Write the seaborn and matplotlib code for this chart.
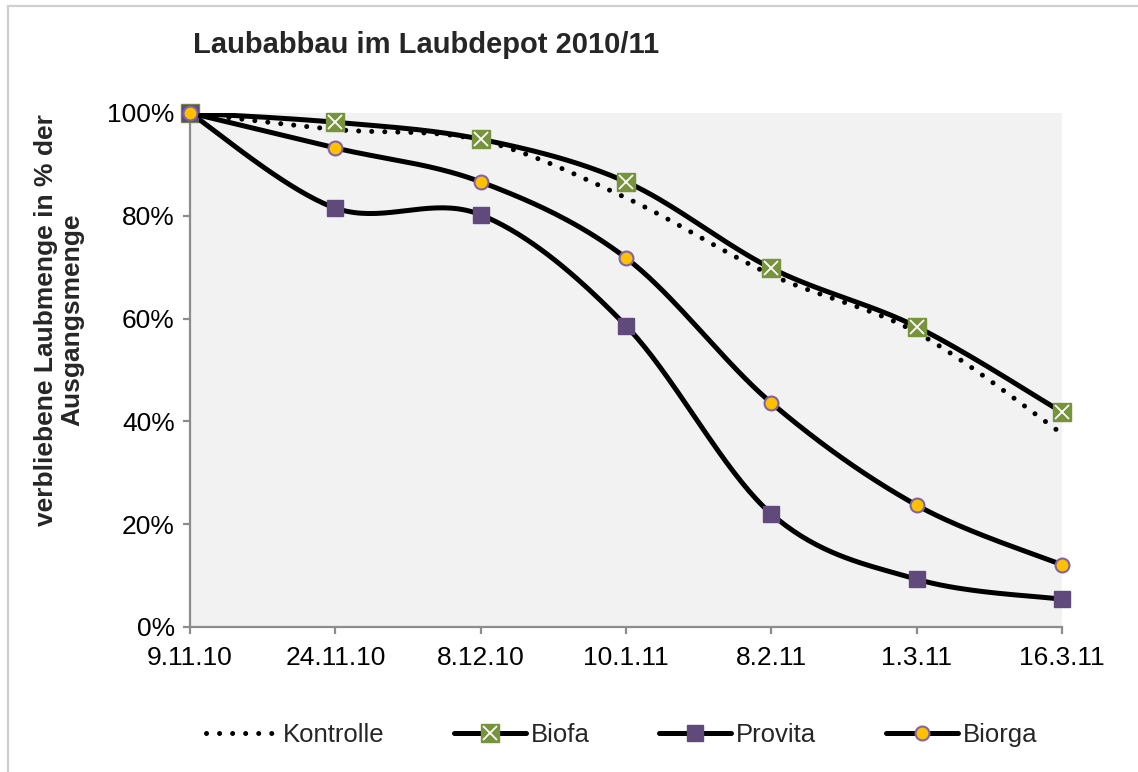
import numpy as np
import pandas as pd
import matplotlib
matplotlib.use('Agg')
import matplotlib.pyplot as plt
from matplotlib.lines import Line2D
from matplotlib.patches import Rectangle
from matplotlib.legend_handler import HandlerTuple
import seaborn as sns

dates = ['9.11.10', '24.11.10', '8.12.10', '10.1.11', '8.2.11', '1.3.11', '16.3.11']
kontrolle = [100, 96.8, 94.7, 83.5, 68.5, 57.3, 37.6]
biofa = [100, 98.2, 94.9, 86.6, 69.8, 58.4, 41.8]
provita = [100, 81.5, 80.2, 58.6, 22.0, 9.3, 5.4]
biorga = [100, 93.2, 86.6, 71.8, 43.6, 23.7, 12.1]
yticks = [0, 20, 40, 60, 80, 100]

### Excel-like smoothed line (Catmull-Rom through the data points)
def smooth(xs, ys, n=40):
    p = np.column_stack([xs, ys]).astype(float)
    p = np.vstack([p[0], p, p[-1]])
    out = []
    for i in range(1, len(p) - 2):
        p0, p1, p2, p3 = p[i - 1], p[i], p[i + 1], p[i + 2]
        c1 = p1 + (p2 - p0) / 6
        c2 = p2 - (p3 - p1) / 6
        t = np.linspace(0, 1, n)[:, None]
        seg = (1 - t)**3 * p1 + 3 * (1 - t)**2 * t * c1 + 3 * (1 - t) * t**2 * c2 + t**3 * p2
        out.append(seg if i == 1 else seg[1:])
    out = np.vstack(out)
    return out[:, 0], out[:, 1]

sns.set_style('white')
plt.rcParams['font.family'] = ['Liberation Sans', 'DejaVu Sans']

W, H = 1138, 772
fig = plt.figure(figsize=(W / 100, H / 100), dpi=100)
ax = fig.add_axes([190 / W, 1 - 627 / H, 872 / W, 514 / H])
ax.set_facecolor('#F2F2F2')

xpos = np.arange(len(dates))
series = [
    ('Kontrolle', kontrolle, dict(ls=(0, (0.01, 2.6)), dash_capstyle='round'), None),
    ('Biofa', biofa, dict(ls='-'), dict(marker='s', ms=13.5, mfc='#77933C', mec='#77933C')),
    ('Provita', provita, dict(ls='-'), dict(marker='s', ms=11.5, mfc='#604A7B', mec='#604A7B')),
    ('Biorga', biorga, dict(ls='-'), dict(marker='o', ms=10, mfc='#FFC000', mec='#8064A2', mew=1.5)),
]

handles = []
for z, (name, vals, lstyle, mstyle) in enumerate(series):
    sx, sy = smooth(xpos, vals)
    df = pd.DataFrame({'x': sx, 'y': sy})
    sns.lineplot(data=df, x='x', y='y', sort=False, estimator=None, ax=ax,
                 color='black', lw=3.6, zorder=3 + z * 2, **lstyle)
    if mstyle:
        ax.plot(xpos, vals, ls='none', clip_on=False, zorder=4 + z * 2, **mstyle)
        if name == 'Biofa':
            ax.plot(xpos, vals, ls='none', marker='x', ms=10.5, mec='white', mew=1.3,
                    clip_on=False, zorder=4 + z * 2)
    h = [Line2D([], [], color='black', lw=3.6, **lstyle, **(mstyle or {}))]
    if name == 'Biofa':
        h.append(Line2D([], [], ls='none', marker='x', ms=10.5, mec='white', mew=1.3))
    handles.append(tuple(h))

ax.set_xlim(0, len(dates) - 1)
ax.set_ylim(0, 100)
ax.set_xticks(xpos)
ax.set_xticklabels(dates)
ax.set_yticks(yticks)
ax.set_yticklabels([f'{v}%' for v in yticks])
ax.set_xlabel('')
ax.set_ylabel('')
for s in ['top', 'right']:
    ax.spines[s].set_visible(False)
for s in ['left', 'bottom']:
    ax.spines[s].set_color('#8C8C8C')
    ax.spines[s].set_linewidth(1.6)
ax.tick_params(axis='both', which='both', direction='out', length=5, width=1.6,
               color='#8C8C8C', labelsize=19, labelcolor='black')
ax.tick_params(axis='x', pad=9, bottom=True)
ax.tick_params(axis='y', pad=6, left=True)

fig.text(193 / W, 1 - 45 / H, 'Laubabbau im Laubdepot 2010/11', fontsize=21,
         fontweight='bold', ha='left', va='center')
fig.text(59 / W, 1 - 320 / H, 'verbliebene Laubmenge in % der\nAusgangsmenge',
         fontsize=19, fontweight='bold', rotation=90, ha='center', va='center',
         multialignment='center', linespacing=1.1)

ax.legend(handles, [s[0] for s in series], loc='center',
          bbox_to_anchor=(0.495, (H - 735 - (H - 627)) / 514),
          ncol=4, frameon=False, fontsize=18.5, handlelength=2.8, handletextpad=0.2,
          columnspacing=2.7, handler_map={tuple: HandlerTuple(ndivide=1)})

fig.patches.append(Rectangle((8 / W, -0.02), 1.2, 1 - 6 / H + 0.02, transform=fig.transFigure,
                             fill=False, edgecolor='#CFCFCF', lw=1.6))

fig.savefig('out.png', dpi=100)
